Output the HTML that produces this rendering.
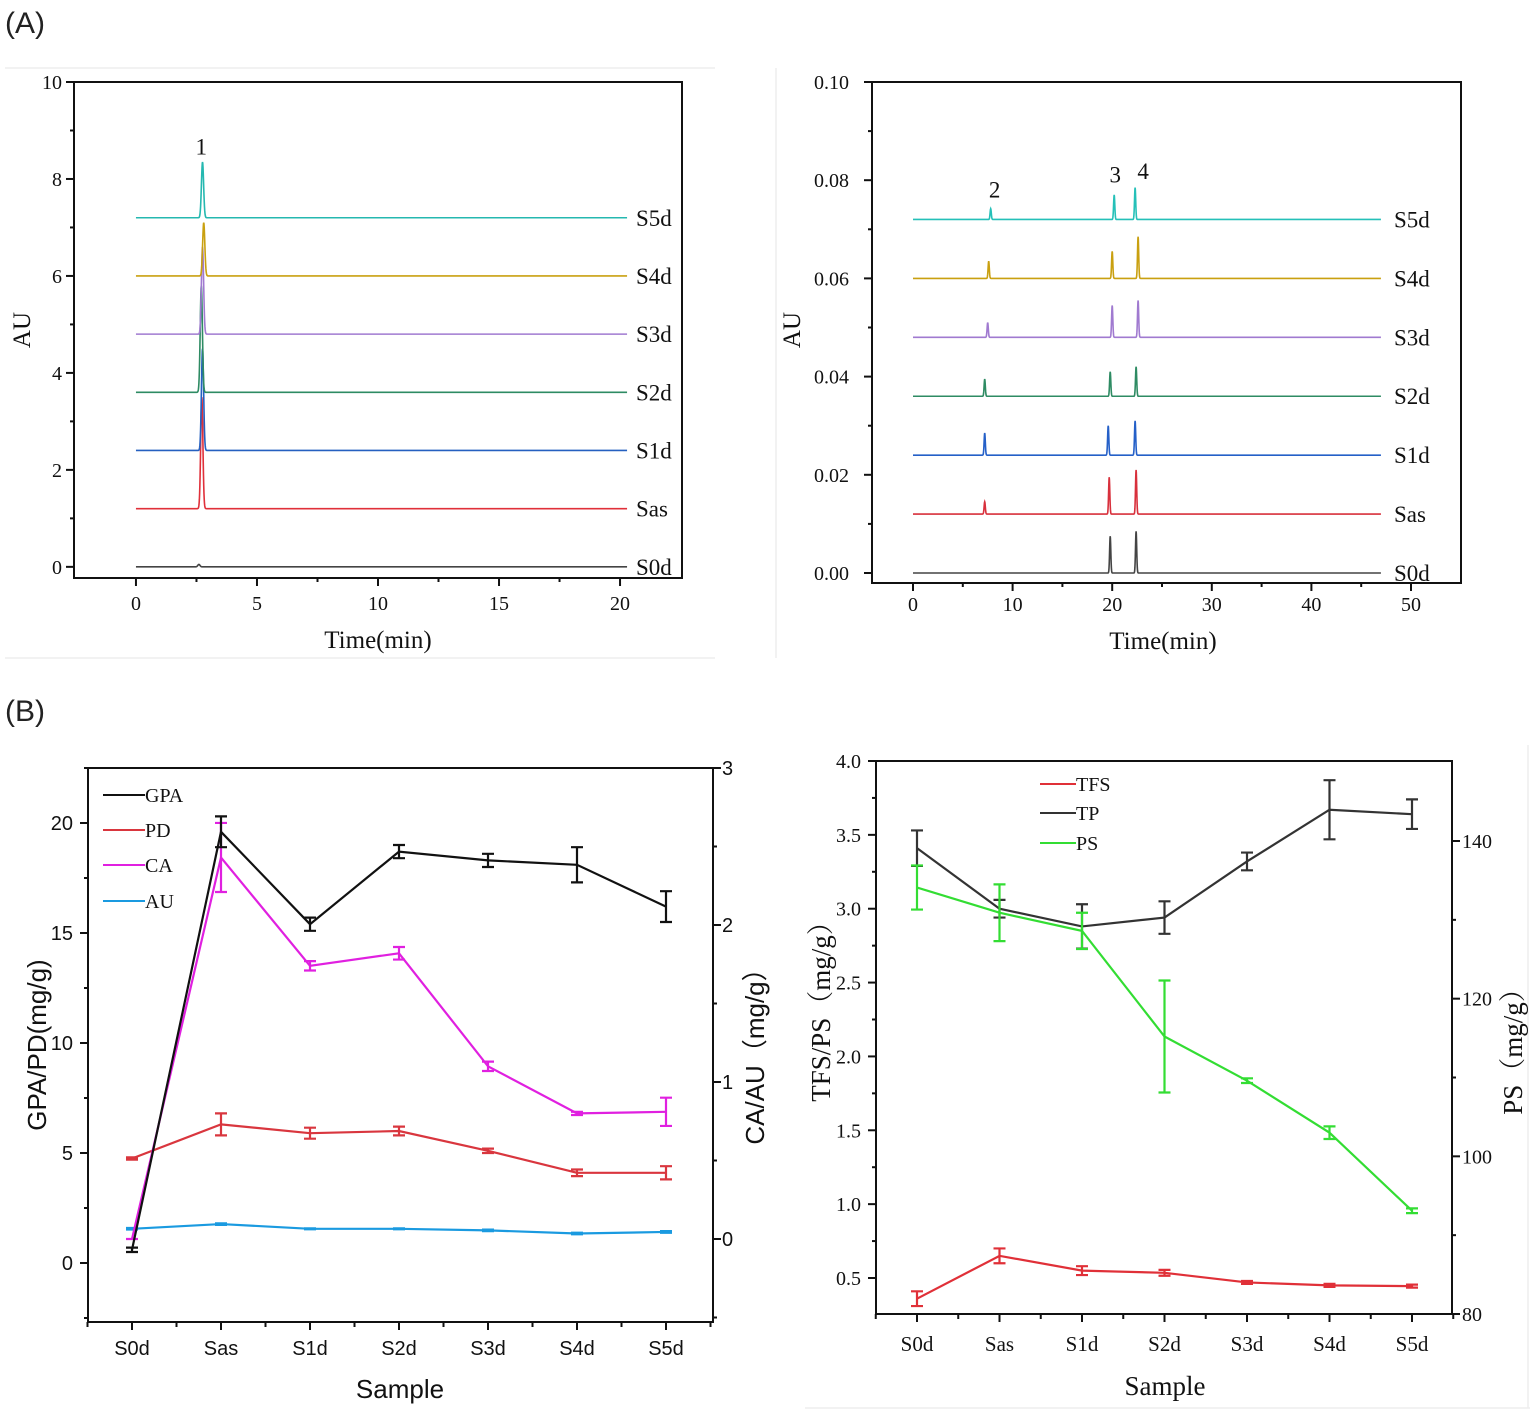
<!DOCTYPE html>
<html><head><meta charset="utf-8"><style>
html,body{margin:0;padding:0;background:#fff;}
svg{display:block;}
</style></head><body>
<svg id="fig" width="1535" height="1416" viewBox="0 0 1535 1416" xmlns="http://www.w3.org/2000/svg">
<rect x="0" y="0" width="1535" height="1416" fill="#fff"/>
<line x1="5" y1="68" x2="715" y2="68" stroke="#eee" stroke-width="1.5"/>
<line x1="5" y1="658" x2="715" y2="658" stroke="#eee" stroke-width="1.5"/>
<line x1="776" y1="68" x2="776" y2="658" stroke="#eee" stroke-width="1.5"/>
<line x1="805" y1="1408" x2="1530" y2="1408" stroke="#eee" stroke-width="1.5"/>
<line x1="1528" y1="745" x2="1528" y2="1408" stroke="#eee" stroke-width="1.5"/>
<text x="5" y="33" font-family="Liberation Sans, sans-serif" font-size="30" fill="#222">(A)</text>
<text x="5" y="721" font-family="Liberation Sans, sans-serif" font-size="30" fill="#222">(B)</text>
</svg>
<script>
// ---------- data: chromatogram left ----------
const chromL_samples = ['S0d','Sas','S1d','S2d','S3d','S4d','S5d'];
const chromL_offsets = [0, 1.2, 2.4, 3.6, 4.8, 6.0, 7.2];
const chromL_peakTime = [2.6, 2.72, 2.75, 2.7, 2.75, 2.8, 2.75];
const chromL_peakHeight = [0.05, 2.3, 2.1, 2.2, 1.8, 1.1, 1.15];
const chromL_xTicks = [0, 5, 10, 15, 20];
const chromL_yTicks = [0, 2, 4, 6, 8, 10];
// ---------- data: chromatogram right ----------
const chromR_samples = ['S0d','Sas','S1d','S2d','S3d','S4d','S5d'];
const chromR_offsets = [0, 0.012, 0.024, 0.036, 0.048, 0.060, 0.072];
const chromR_peak2Time = [7.2, 7.2, 7.2, 7.2, 7.5, 7.6, 7.8];
const chromR_peak2Height = [0, 0.0025, 0.0045, 0.0035, 0.003, 0.0035, 0.0022];
const chromR_peak3Time = [19.8, 19.7, 19.6, 19.8, 20.0, 20.0, 20.2];
const chromR_peak3Height = [0.0075, 0.0075, 0.006, 0.005, 0.0065, 0.0055, 0.005];
const chromR_peak4Time = [22.4, 22.4, 22.3, 22.4, 22.6, 22.6, 22.3];
const chromR_peak4Height = [0.0085, 0.009, 0.007, 0.006, 0.0075, 0.0085, 0.0065];
const chromR_xTicks = [0, 10, 20, 30, 40, 50];
const chromR_yTicks = [0, 0.02, 0.04, 0.06, 0.08, 0.10];
// ---------- data: B left ----------
const bl_categories = ['S0d','Sas','S1d','S2d','S3d','S4d','S5d'];
const bl_gpa = [0.6, 19.6, 15.4, 18.7, 18.3, 18.1, 16.2];
const bl_gpaErr = [0.1, 0.7, 0.3, 0.3, 0.3, 0.8, 0.7];
const bl_pd = [4.75, 6.3, 5.9, 6.0, 5.1, 4.1, 4.1];
const bl_pdErr = [0.05, 0.5, 0.25, 0.2, 0.1, 0.15, 0.3];
const bl_ca = [0.0, 2.43, 1.74, 1.82, 1.10, 0.80, 0.81];
const bl_caErr = [0.0, 0.22, 0.03, 0.04, 0.03, 0.01, 0.09];
const bl_au = [0.065, 0.095, 0.065, 0.065, 0.055, 0.035, 0.045];
const bl_auErr = [0.005, 0.005, 0.003, 0.003, 0.005, 0.005, 0.005];
const bl_leftTicks = [0, 5, 10, 15, 20];
const bl_rightTicks = [0, 1, 2, 3];
// ---------- data: B right ----------
const br_categories = ['S0d','Sas','S1d','S2d','S3d','S4d','S5d'];
const br_tfs = [0.36, 0.65, 0.55, 0.535, 0.47, 0.45, 0.445];
const br_tfsErr = [0.05, 0.05, 0.03, 0.02, 0.01, 0.01, 0.01];
const br_tp = [3.41, 3.0, 2.88, 2.94, 3.32, 3.67, 3.64];
const br_tpErr = [0.12, 0.06, 0.15, 0.11, 0.06, 0.2, 0.1];
const br_ps = [134.1, 130.9, 128.6, 115.2, 109.6, 103.0, 93.1];
const br_psErr = [2.8, 3.6, 2.3, 7.1, 0.3, 0.8, 0.3];
const br_leftTicks = [0.5, 1.0, 1.5, 2.0, 2.5, 3.0, 3.5, 4.0];
const br_rightTicks = [80, 100, 120, 140];

const NS = 'http://www.w3.org/2000/svg';
const svg = document.getElementById('fig');
const SERIF = '"Liberation Serif", serif';
const SANS = '"Liberation Sans", sans-serif';
function mk(tag, attrs, parent) {
  const e = document.createElementNS(NS, tag);
  for (const k in attrs) e.setAttribute(k, attrs[k]);
  (parent || svg).appendChild(e);
  return e;
}
function lin(d0, d1, r0, r1) { return v => r0 + (v - d0) * (r1 - r0) / (d1 - d0); }
function txt(x, y, s, size, font, anchor, parent, rot, color) {
  const t = mk('text', {x: x, y: y, 'font-size': size, 'font-family': font, 'text-anchor': anchor || 'middle', fill: color || '#111'}, parent);
  if (rot) t.setAttribute('transform', 'rotate(' + rot + ' ' + x + ' ' + y + ')');
  t.textContent = s;
  return t;
}
function frame(g, x0, y0, x1, y1, name) {
  const r = mk('rect', {x: x0, y: y0, width: x1 - x0, height: y1 - y0, fill: 'none', stroke: '#111', 'stroke-width': 2}, g);
  
  
}
function tick(g, x1, y1, x2, y2) { mk('line', {x1: x1, y1: y1, x2: x2, y2: y2, stroke: '#111', 'stroke-width': 2}, g); }

// ================= Chromatogram left =================
(function () {
  const g = mk('g', {});
  
  
  const X = lin(-2.56, 22.56, 74, 682), Y = lin(-0.23, 10, 578, 82);
  frame(g, 74, 82, 682, 578, 'plot-frame');
  chromL_yTicks.forEach(v => { tick(g, 74, Y(v), 66, Y(v)); const t = txt(62, Y(v) + 7, String(v), 20, SERIF, 'end', g);   });
  for (let v = 1; v < 10; v += 2) tick(g, 74, Y(v), 70, Y(v));
  chromL_xTicks.forEach(v => { tick(g, X(v), 578, X(v), 586); const t = txt(X(v), 610, String(v), 20, SERIF, 'middle', g);   });
  for (let v = 2.5; v < 22; v += 5) tick(g, X(v), 578, X(v), 582);
  const colors = ['#444', '#e0303a', '#2560c0', '#2e8b63', '#a07ad0', '#c9a010', '#25b8b0'];
  chromL_samples.forEach((s, i) => {
    let d = '';
    for (let t = 0; t <= 20.3; t += 0.01) {
      const dt = t - chromL_peakTime[i];
      const v = chromL_offsets[i] + chromL_peakHeight[i] * Math.exp(-dt * dt / (2 * 0.045 * 0.045));
      d += (d ? 'L' : 'M') + X(t).toFixed(2) + ',' + Y(v).toFixed(2);
    }
    const p = mk('path', {d: d, fill: 'none', stroke: colors[i], 'stroke-width': 1.6}, g);
    
    
    const lb = txt(636, Y(chromL_offsets[i]) + 8, s, 23, SERIF, 'start', g);
    
    
  });
  const pk = txt(X(2.7), Y(8.5), '1', 23, SERIF, 'middle', g);
  
  
  const yt = txt(30, 330, 'AU', 25, SERIF, 'middle', g, -90);
  
  
  const xt = txt(378, 648, 'Time(min)', 25, SERIF, 'middle', g);
  
  
})();

// ================= Chromatogram right =================
(function () {
  const g = mk('g', {});
  
  
  const X = lin(0, 50, 913, 1411), Y = lin(0, 0.1, 573, 82);
  frame(g, 872, 82, 1461, 583, 'plot-frame');
  chromR_yTicks.forEach(v => { tick(g, 872, Y(v), 864, Y(v)); const t = txt(849, Y(v) + 7, v.toFixed(2), 20, SERIF, 'end', g);   });
  for (let v = 0.01; v < 0.1; v += 0.02) tick(g, 872, Y(v), 868, Y(v));
  chromR_xTicks.forEach(v => { tick(g, X(v), 583, X(v), 591); const t = txt(X(v), 611, String(v), 20, SERIF, 'middle', g);   });
  for (let v = 5; v < 55; v += 10) tick(g, X(v), 583, X(v), 587);
  const colors = ['#444', '#d8303c', '#2560c8', '#2e8b63', '#a07ad0', '#c9a010', '#25c0b8'];
  chromR_samples.forEach((s, i) => {
    const pts = [[chromR_peak2Time[i], chromR_peak2Height[i]], [chromR_peak3Time[i], chromR_peak3Height[i]], [chromR_peak4Time[i], chromR_peak4Height[i]]];
    let d = '';
    for (let t = 0; t <= 47; t += 0.02) {
      let v = chromR_offsets[i];
      pts.forEach(p => { const dt = t - p[0]; v += p[1] * Math.exp(-dt * dt / (2 * 0.06 * 0.06)); });
      d += (d ? 'L' : 'M') + X(t).toFixed(2) + ',' + Y(v).toFixed(2);
    }
    const p = mk('path', {d: d, fill: 'none', stroke: colors[i], 'stroke-width': 1.6}, g);
    
    
    const lb = txt(1394, Y(chromR_offsets[i]) + 8, s, 23, SERIF, 'start', g);
    
    
  });
  const l2 = txt(X(8.2), Y(0.0765), '2', 23, SERIF, 'middle', g);
  
  
  const l3 = txt(X(20.3), Y(0.0795), '3', 23, SERIF, 'middle', g);
  
  
  const l4 = txt(X(23.1), Y(0.0802), '4', 23, SERIF, 'middle', g);
  
  
  const yt = txt(800, 330, 'AU', 25, SERIF, 'middle', g, -90);
  
  
  const xt = txt(1163, 649, 'Time(min)', 25, SERIF, 'middle', g);
  
  
})();

function series(g, X, Y, vals, errs, color, name) {
  let d = '';
  vals.forEach((v, i) => { d += (i ? 'L' : 'M') + X(i) + ',' + Y(v); });
  const p = mk('path', {d: d, fill: 'none', stroke: color, 'stroke-width': 2.2}, g);
  
  
  vals.forEach((v, i) => {
    const e = errs[i], x = X(i), y0 = Y(v - e), y1 = Y(v + e);
    const eb = mk('path', {d: 'M' + x + ',' + y0 + 'L' + x + ',' + y1 + 'M' + (x - 6) + ',' + y0 + 'L' + (x + 6) + ',' + y0 + 'M' + (x - 6) + ',' + y1 + 'L' + (x + 6) + ',' + y1, stroke: color, 'stroke-width': 2.2, fill: 'none'}, g);
    
    
  });
}
function legend(g, x, y, label, color, font, size, len) {
  const l = mk('line', {x1: x, y1: y, x2: x + len, y2: y, stroke: color, 'stroke-width': 2}, g);
  
  
  const t = txt(x + len, y + 7, label, size, font, 'start', g);
  
  
}

// ================= B left =================
(function () {
  const g = mk('g', {});
  
  
  const X0 = 132, DX = 89.0;
  const X = i => X0 + i * DX;
  const YL = lin(0, 20, 1263, 823), YR = lin(0, 3, 1239, 768);
  frame(g, 88, 768, 713, 1322, 'plot-frame');
  bl_leftTicks.forEach(v => { tick(g, 88, YL(v), 80, YL(v)); const t = txt(73, YL(v) + 7, String(v), 20, SANS, 'end', g);   });
  for (let v = 2.5; v < 25; v += 5) tick(g, 88, YL(v), 84, YL(v));
  tick(g, 88, YL(-2.5), 84, YL(-2.5));
  bl_rightTicks.forEach(v => { tick(g, 713, YR(v), 721, YR(v)); const t = txt(722, YR(v) + 7, String(v), 20, SANS, 'start', g);   });
  for (let v = -0.5; v < 3; v += 1) tick(g, 713, YR(v), 717, YR(v));
  bl_categories.forEach((c, i) => { tick(g, X(i), 1322, X(i), 1330); tick(g, X(i) + DX / 2, 1322, X(i) + DX / 2, 1327); const t = txt(X(i), 1355, c, 20, SANS, 'middle', g);   });
  tick(g, X(0) - DX / 2, 1322, X(0) - DX / 2, 1327);
  series(g, X, YR, bl_au, bl_auErr, '#1a9ae0', 'au');
  series(g, X, YL, bl_pd, bl_pdErr, '#d9363e', 'pd');
  series(g, X, YR, bl_ca, bl_caErr, '#e020e0', 'ca');
  series(g, X, YL, bl_gpa, bl_gpaErr, '#111', 'gpa');
  legend(g, 103, 795, 'GPA', '#111', SERIF, 20, 42);
  legend(g, 103, 830, 'PD', '#d9363e', SERIF, 20, 42);
  legend(g, 103, 865, 'CA', '#e020e0', SERIF, 20, 42);
  legend(g, 103, 901, 'AU', '#1a9ae0', SERIF, 20, 42);
  const yl = txt(46, 1045, 'GPA/PD(mg/g)', 26, SANS, 'middle', g, -90);
  
  
  const yr = txt(764, 1050, 'CA/AU（mg/g）', 26, '"Liberation Sans", "Noto Sans CJK SC", sans-serif', 'middle', g, -90);
  
  
  const xt = txt(400, 1398, 'Sample', 26, SANS, 'middle', g);
  
  
})();

// ================= B right =================
(function () {
  const g = mk('g', {});
  
  
  const X0 = 917, DX = 82.5;
  const X = i => X0 + i * DX;
  const YL = lin(0.5, 4.0, 1278, 761), YR = lin(80, 140, 1314, 841);
  frame(g, 876, 761, 1452, 1314, 'plot-frame');
  br_leftTicks.forEach(v => { tick(g, 876, YL(v), 868, YL(v)); const t = txt(861, YL(v) + 7, v.toFixed(1), 20, SERIF, 'end', g);   });
  for (let v = 0.75; v < 4; v += 0.5) tick(g, 876, YL(v), 872, YL(v));
  br_rightTicks.forEach(v => { tick(g, 1452, YR(v), 1460, YR(v)); const t = txt(1462, YR(v) + 7, String(v), 20, SERIF, 'start', g);   });
  for (let v = 90; v < 150; v += 20) tick(g, 1452, YR(v), 1456, YR(v));
  br_categories.forEach((c, i) => { tick(g, X(i), 1314, X(i), 1322); tick(g, X(i) + DX / 2, 1314, X(i) + DX / 2, 1319); const t = txt(X(i), 1351, c, 21, SERIF, 'middle', g);   });
  tick(g, X(0) - DX / 2, 1314, X(0) - DX / 2, 1319);
  series(g, X, YL, br_tp, br_tpErr, '#333', 'tp');
  series(g, X, YR, br_ps, br_psErr, '#33dd33', 'ps');
  series(g, X, YL, br_tfs, br_tfsErr, '#e03038', 'tfs');
  legend(g, 1040, 784, 'TFS', '#e03038', SERIF, 20, 36);
  legend(g, 1040, 813, 'TP', '#333', SERIF, 20, 36);
  legend(g, 1040, 843, 'PS', '#33dd33', SERIF, 20, 36);
  const yl = txt(830, 1005, 'TFS/PS（mg/g）', 27, '"Liberation Serif", "Noto Serif CJK SC", serif', 'middle', g, -90);
  
  
  const yr = txt(1522, 1045, 'PS（mg/g）', 27, '"Liberation Serif", "Noto Serif CJK SC", serif', 'middle', g, -90);
  
  
  const xt = txt(1165, 1395, 'Sample', 27, SERIF, 'middle', g);
  
  
})();
</script>
</body></html>
